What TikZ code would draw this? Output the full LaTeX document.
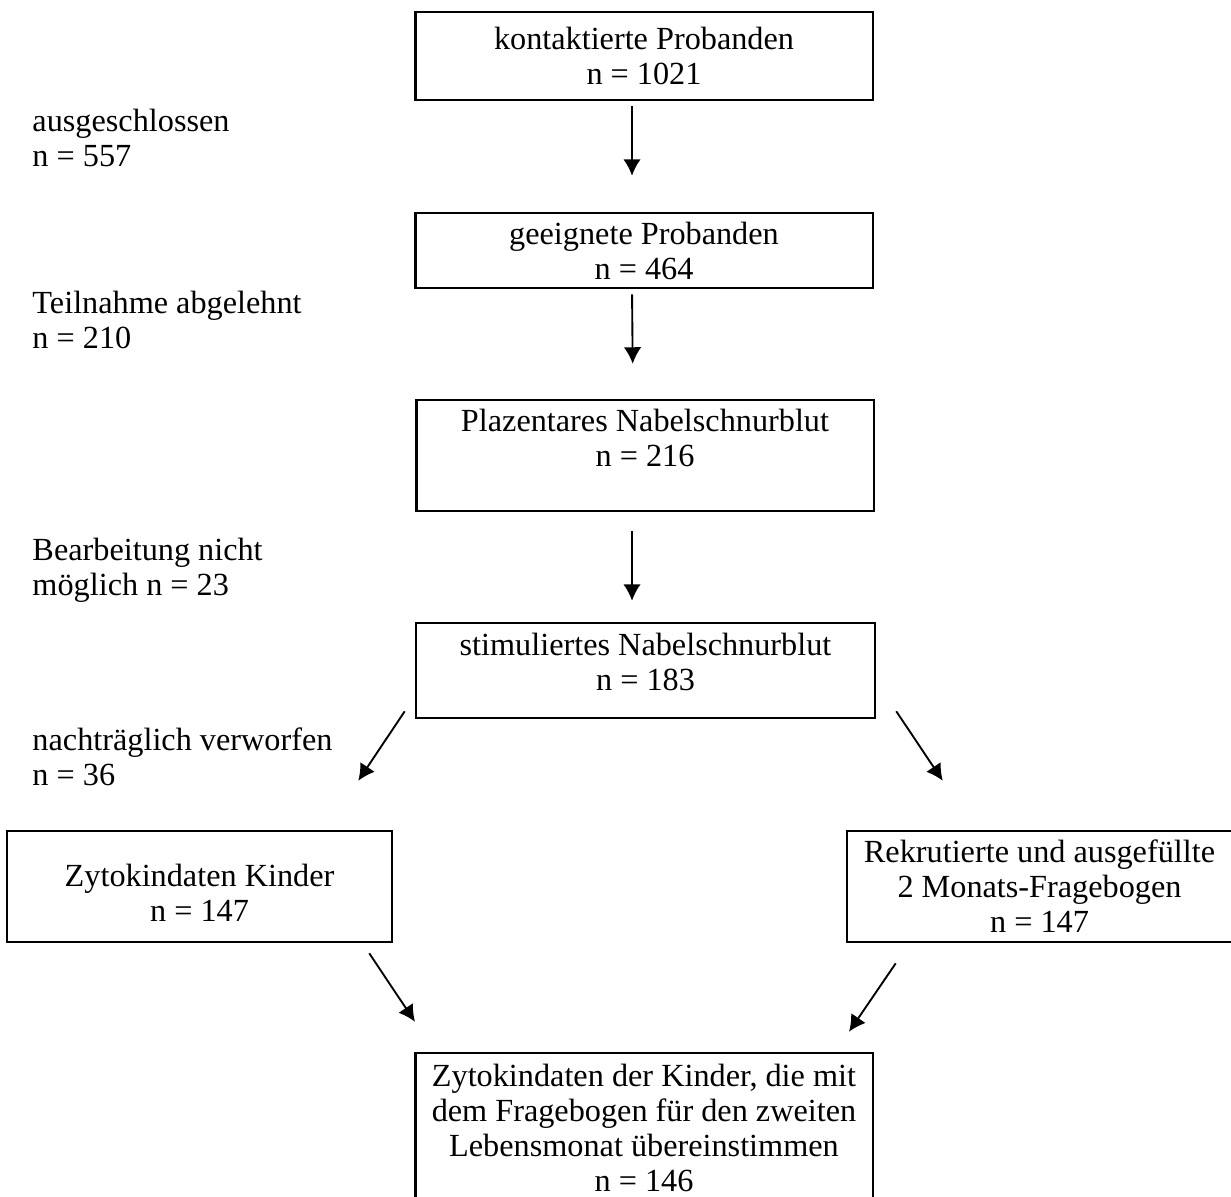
\documentclass[tikz,border=0pt]{standalone}
\usepackage{fontspec}
\setmainfont{Liberation Serif}
\usepackage{tikz}
\usetikzlibrary{arrows.meta}
\tikzstyle{box} = [rectangle, draw=black, line width=1pt, inner sep=0pt, align=center, text centered, font=\fontsize{12.9}{14}\selectfont]
\tikzstyle{note} = [anchor=west, inner sep=0pt, align=left, font=\fontsize{12.9}{14}\selectfont]
\tikzstyle{arrow} = [line width=0.75pt, -{Latex[length=6.6pt,width=7pt]}]

\begin{document}
\begin{tikzpicture}[x=0.4pt, y=-0.4pt]
        \useasboundingbox (0,0) rectangle (1231,1196);
        % Nodes
        \node (contacted) [box, minimum width=183pt, minimum height=35.2pt] at (644,56) {kontaktierte Probanden\\ n = 1021};
        \node (suitable) [box, minimum width=183pt, minimum height=30pt] at (644,250.5) {geeignete Probanden\\ n = 464};
        \node (placental) [box, minimum width=183pt, minimum height=44.4pt] at (645,455.5) {Plazentares Nabelschnurblut\\ n = 216\\ \mbox{}};
        \node (stimulated) [box, minimum width=183.6pt, minimum height=38pt] at (645.5,670.5) {stimuliertes Nabelschnurblut\\ n = 183\\[-7pt] \mbox{}};
        \node (cytokines) [box, minimum width=154pt, minimum height=44.4pt] at (199.5,886.5) {\mbox{}\\ Zytokindaten Kinder\\ n = 147};
        \node (recruited) [box, minimum width=154pt, minimum height=44.4pt] at (1039.5,886.5) {Rekrutierte und ausgefüllte\\ 2 Monats-Fragebogen\\ n = 147};
        \node (matched) [box, minimum width=183pt, minimum height=60pt] at (644,1128) {Zytokindaten der Kinder, die mit\\ dem Fragebogen für den zweiten\\ Lebensmonat übereinstimmen\\ n = 146};

        % Side notes
        \node (excluded) [note] at (32,137.5) {ausgeschlossen\\ n = 557};
        \node (declined) [note] at (32,319.5) {Teilnahme abgelehnt\\ n = 210};
        \node (failed) [note] at (32,570) {Bearbeitung nicht\\ möglich n = 23};
        \node (discarded) [note] at (32,757) {nachträglich verworfen\\ n = 36};

        % Lines
        \draw [arrow, shorten <=2pt, shorten >=14.4pt] ([xshift=-4.8pt]contacted.south) -- ([xshift=-4.8pt]suitable.north);
        \draw [arrow, shorten <=2pt, shorten >=14pt] ([xshift=-4.8pt]suitable.south) -- ([xshift=-4.8pt]placental.north);
        \draw [arrow, shorten <=7.6pt, shorten >=8.4pt] ([xshift=-5.2pt]placental.south) -- ([xshift=-5.4pt]stimulated.north);
        \draw [arrow] ([xshift=-4pt,yshift=3.2pt]stimulated.south west) -- ([xshift=-14pt,yshift=19.6pt]cytokines.north east);
        \draw [arrow] ([xshift=8pt,yshift=3.2pt]stimulated.south east) -- ([xshift=38.8pt,yshift=19.6pt]recruited.north west);
        \draw [arrow] ([xshift=-9.6pt,yshift=-4pt]cytokines.south east) -- ([xshift=0.4pt,yshift=12pt]matched.north west);
        \draw [arrow] ([xshift=20pt,yshift=-8pt]recruited.south west) -- ([xshift=-10pt,yshift=8pt]matched.north east);
    \end{tikzpicture}
\end{document}
